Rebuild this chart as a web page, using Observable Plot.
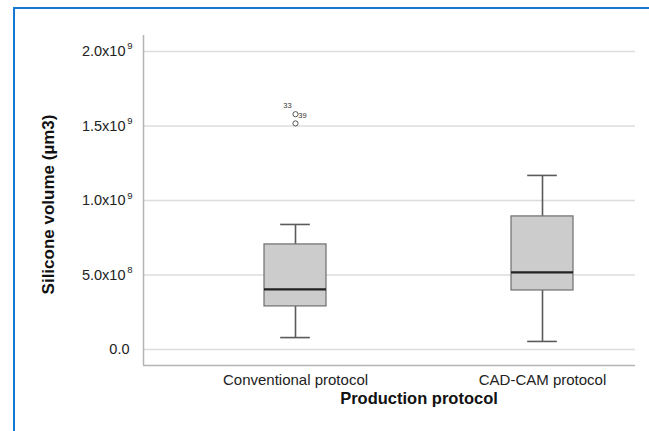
<!DOCTYPE html>
<html>
<head>
<meta charset="utf-8">
<script src="https://cdn.jsdelivr.net/npm/d3@7"></script>
<script src="https://cdn.jsdelivr.net/npm/@observablehq/plot@0.6"></script>
<style>
  html, body { margin: 0; padding: 0; background: #fff; }
  #wrap { position: relative; width: 649px; height: 431px; overflow: hidden; }
  #frame { position: absolute; left: 13px; top: 7px; width: 700px; height: 500px;
           border-top: 2px solid #1479d2; border-left: 2px solid #1479d2; pointer-events: none; }
  svg { display: block; }
</style>
</head>
<body>
<div id="wrap"><div id="frame"></div></div>
<script>
// Category labels and positions
const categories = ["Conventional protocol", "CAD-CAM protocol"];
const positions = [1, 2];
// Box-plot summaries (µm3)
const whiskerLow  = [0.080e9, 0.054e9];
const q1          = [0.289e9, 0.396e9];
const median      = [0.403e9, 0.517e9];
const q3          = [0.705e9, 0.893e9];
const whiskerHigh = [0.839e9, 1.168e9];
// Outliers
const outlierPos   = [1, 1];
const outlierValue = [1.579e9, 1.517e9];
const outlierLabel = ["33", "39"];
// Y tick values and labels (mantissa and exponent)
const yTicks = [0, 0.5e9, 1.0e9, 1.5e9, 2.0e9];
const yTickBase = ["0.0", "5.0x10", "1.0x10", "1.5x10", "2.0x10"];
const yTickExp  = ["", "8", "9", "9", "9"];

const boxes = positions.map((p, i) => ({
  p, lo: whiskerLow[i], q1: q1[i], med: median[i], q3: q3[i], hi: whiskerHigh[i]
}));
const outliers = outlierPos.map((p, i) => ({p, v: outlierValue[i], label: outlierLabel[i]}));
const ticks = yTicks.map((v, i) => ({v, base: yTickBase[i], exp: yTickExp[i]}));

const halfBox = 0.1255, halfCap = 0.06;
const xMin = 0.3846, xMax = 2.3765, yMin = -0.1074e9, yMax = 2.107e9;
const font = "Liberation Sans, Arial, Helvetica, sans-serif";

const chart = Plot.plot({
  width: 649,
  height: 431,
  marginLeft: 143,
  marginRight: 14,
  marginTop: 35,
  marginBottom: 66,
  style: {fontFamily: font, fontSize: "12px", color: "#222", background: "transparent"},
  x: {type: "linear", domain: [xMin, xMax], axis: null},
  y: {domain: [yMin, yMax], axis: null},
  marks: [
    // gridlines
    Plot.ruleY(yTicks, {x1: xMin, x2: xMax, stroke: "#dcdcdc", strokeWidth: 1.5}),
    // axis lines
    Plot.ruleX([xMin], {stroke: "#b4b4b4", strokeWidth: 1.5}),
    Plot.ruleY([yMin], {stroke: "#b4b4b4", strokeWidth: 1.5}),
    // y tick labels
    Plot.text(ticks, {x: xMin, y: "v", text: "base", textAnchor: "end", dx: -18, fontSize: 14.5, fill: "#222",
                      filter: d => d.exp !== ""}),
    Plot.text(ticks, {x: xMin, y: "v", text: "base", textAnchor: "end", dx: -14, fontSize: 14.5, fill: "#222",
                      filter: d => d.exp === ""}),
    Plot.text(ticks, {x: xMin, y: "v", text: "exp", textAnchor: "end", dx: -11, dy: -5, fontSize: 9.5, fill: "#222"}),
    // x category labels
    Plot.text(positions, {x: d => d, y: yMin, text: (d, i) => categories[i], dy: 15, fontSize: 15, fill: "#222"}),
    // whiskers
    Plot.ruleX(boxes, {x: "p", y1: "lo", y2: "q1", stroke: "#5a5a5a", strokeWidth: 1.6}),
    Plot.ruleX(boxes, {x: "p", y1: "q3", y2: "hi", stroke: "#5a5a5a", strokeWidth: 1.6}),
    Plot.ruleY(boxes, {y: "lo", x1: d => d.p - halfCap, x2: d => d.p + halfCap, stroke: "#5a5a5a", strokeWidth: 1.6}),
    Plot.ruleY(boxes, {y: "hi", x1: d => d.p - halfCap, x2: d => d.p + halfCap, stroke: "#5a5a5a", strokeWidth: 1.6}),
    // boxes
    Plot.rect(boxes, {x1: d => d.p - halfBox, x2: d => d.p + halfBox, y1: "q1", y2: "q3", fill: "#cccccc", stroke: "#6e6e6e", strokeWidth: 1.2}),
    // medians
    Plot.ruleY(boxes, {y: "med", x1: d => d.p - halfBox, x2: d => d.p + halfBox, stroke: "#222", strokeWidth: 2.2}),
    // outliers
    Plot.dot(outliers, {x: "p", y: "v", r: 2.6, stroke: "#555", strokeWidth: 1, fill: "white"}),
    Plot.text(outliers.filter(d => d.label === "33"), {x: "p", y: "v", text: "label", dx: -8, dy: -9, fontSize: 7.5, fill: "#333"}),
    Plot.text(outliers.filter(d => d.label === "39"), {x: outliers[0].p, y: outliers[0].v, text: "label", dx: 7, dy: 1, fontSize: 7.5, fill: "#333"}),
    // axis titles
    Plot.text(["Production protocol"], {x: 1.5, y: yMin, text: d => d, dy: 33, fontSize: 16.5, fontWeight: "bold", fill: "#111"}),
    Plot.text(["Silicone volume (\u00b5m3)"], {x: xMin, y: 0.973e9, text: d => d, dx: -95, rotate: -90, fontSize: 17, fontWeight: "bold", fill: "#111"})
  ]
});
document.getElementById("wrap").prepend(chart);
</script>
</body>
</html>
